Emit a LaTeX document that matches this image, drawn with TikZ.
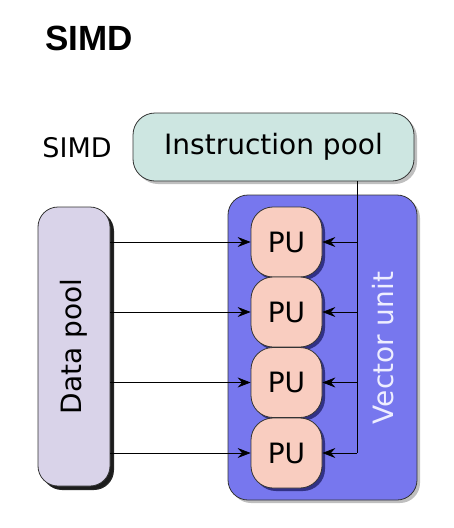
\documentclass[tikz,border=0pt]{standalone}
\usepackage{fontspec}
\setmainfont{DejaVu Sans}
\newfontfamily\headfont{Liberation Sans}
\usepackage{xcolor}
\usetikzlibrary{arrows.meta,positioning,shadows}
\definecolor{ipoolfill}{HTML}{CDE6E1}
\definecolor{dpoolfill}{HTML}{D9D3E9}
\definecolor{vunitfill}{HTML}{7777EE}
\definecolor{pufill}{HTML}{F9CDC0}
\definecolor{vtext}{HTML}{EEEEFF}
\tikzset{
  poolbox/.style={draw=black!80, line width=0.8pt, rounded corners=20pt,
    font=\fontsize{28}{30}\selectfont, inner sep=0pt,
    drop shadow={shadow xshift=3pt, shadow yshift=-3pt, opacity=0.5}},
  pubox/.style={poolbox, fill=pufill, rounded corners=22pt,
    minimum width=71pt, minimum height=70pt,
    drop shadow={shadow xshift=3pt, shadow yshift=-3pt, fill=blue!40!black, opacity=0.6}},
  feed/.style={line width=0.7pt, -{Stealth[length=13pt,width=10pt,inset=4.5pt]}}
}
\begin{document}
\begin{tikzpicture}[x=1pt,y=-1pt]
  \useasboundingbox (0,0) rectangle (453,528);
  \node[font=\headfont\bfseries\fontsize{35}{36}\selectfont] (title) at (89,38.5) {SIMD};
  \node[font=\fontsize{27}{29}\selectfont] (simd) at (77,148) {SIMD};
  \node[poolbox, fill=ipoolfill, rounded corners=22pt, minimum width=281pt,
        minimum height=68pt] (ipool) at (273.5,147) {Instruction pool};
  \node[poolbox, fill=dpoolfill, minimum width=72pt, minimum height=279pt,
        drop shadow={shadow xshift=4pt, shadow yshift=-4pt, fill=black, opacity=0.85}] (dpool) at (74,346.5) {};
  \node[rotate=90, font=\fontsize{28}{30}\selectfont] at (dpool.center) {Data pool};
  \node[poolbox, fill=vunitfill, minimum width=189pt, minimum height=305pt] (vunit) at (322.5,347.5) {};
  \node[rotate=90, text=vtext, font=\fontsize{28}{30}\selectfont] (vlabel) at (383,348) {Vector unit};
  \foreach \i/\y in {1/242,2/312,3/382.5,4/453}
    \node[pubox] (pu\i) at (286.5,\y) {PU};
  \coordinate (bus) at (357,453);
  \draw[line width=0.7pt] (ipool.south -| bus) -- (bus);
  \foreach \i in {1,...,4} {
    \draw[feed] (dpool.east |- pu\i) -- (pu\i.west);
    \draw[feed] (bus |- pu\i) -- (pu\i.east);
  }
\end{tikzpicture}
\end{document}
